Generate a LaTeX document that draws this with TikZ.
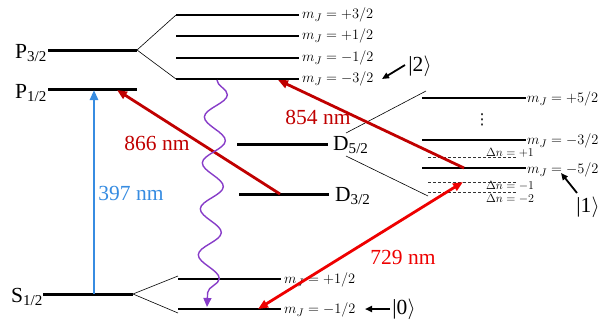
\documentclass[tikz,border=0pt]{standalone}
\usepackage{fontspec}
\setmainfont{Liberation Serif}
\newfontfamily\dejavu{DejaVu Sans}
\usetikzlibrary{arrows.meta,decorations.pathmorphing}
\definecolor{dred}{RGB}{192,0,0}
\definecolor{bred}{RGB}{238,0,0}
\definecolor{lblue}{RGB}{55,140,225}
\definecolor{purp}{RGB}{135,60,200}
\begin{document}
\begin{tikzpicture}[x=1pt,y=-1pt,
  lev/.style={line width=3pt},
  sub/.style={line width=2pt},
  fan/.style={line width=0.6pt},
  dsh/.style={line width=0.8pt,dash pattern=on 3pt off 2pt,black!80},
  ar/.style={-{Triangle[length=10pt,width=8pt]},line width=2.8pt},
  sar/.style={-{Triangle[length=7pt,width=6pt]},line width=1.8pt},
  big/.style={font=\fontsize{21.5}{24}\selectfont,inner sep=0pt},
  wl/.style={font=\fontsize{21.5}{24}\selectfont,inner sep=0pt},
  mj/.style={font=\fontsize{15.3}{18}\selectfont,inner sep=0pt,anchor=west},
  dn/.style={font=\fontsize{12}{12}\selectfont,inner sep=0pt,anchor=west}]
\useasboundingbox (0,0) rectangle (607,325);
% main levels
\coordinate (P3a) at (48,50); \coordinate (P3b) at (137,50);
\coordinate (P1a) at (48,89); \coordinate (P1b) at (137,89);
\coordinate (S1a) at (43,294); \coordinate (S1b) at (133,294);
\coordinate (D5a) at (237,144); \coordinate (D5b) at (328,144);
\coordinate (D3a) at (239,194); \coordinate (D3b) at (329,194);
\draw[lev] (P3a) -- (P3b);
\draw[lev] (P1a) -- (P1b);
\draw[lev] (S1a) -- (S1b);
\draw[lev] (D5a) -- (D5b);
\draw[lev] (D3a) -- (D3b);
\node[big,anchor=base east] (lP3) at (47,58) {P\textsubscript{3/2}};
\node[big,anchor=base east] (lP1) at (47,98) {P\textsubscript{1/2}};
\node[big,anchor=base east] (lS1) at (43,302) {S\textsubscript{1/2}};
\node[big,anchor=base west] (lD5) at (333,150) {D\textsubscript{5/2}};
\node[big,anchor=base west] (lD3) at (335,201) {D\textsubscript{3/2}};
% P3/2 sublevels
\foreach \y/\n/\t in {15/a/{+3/2},36/b/{+1/2},58/c/{-1/2},79/d/{-3/2}}{
  \coordinate (Pm\n1) at (176,\y); \coordinate (Pm\n2) at (299,\y);
  \draw[sub] (Pm\n1) -- (Pm\n2);
  \node[mj] (PmL\n) at (302,\y) {$m_J = \t$};
}
\draw[fan] (Pma1) -- (P3b) -- (Pmd1);
% S1/2 sublevels
\coordinate (Sa1) at (178,279); \coordinate (Sa2) at (281,279);
\coordinate (Sb1) at (178,309); \coordinate (Sb2) at (281,309);
\draw[sub] (Sa1) -- (Sa2);
\draw[sub] (Sb1) -- (Sb2);
\node[mj] (SL1) at (284,280) {$m_J = +1/2$};
\node[mj] (SL2) at (284,310) {$m_J = -1/2$};
\coordinate (Sf1) at (178,276); \coordinate (Sf2) at (178,313);
\draw[fan] (Sf1) -- (S1b) -- (Sf2);
% D5/2 sublevels
\coordinate (Da1) at (422,98); \coordinate (Da2) at (526,98);
\coordinate (Db1) at (422,140); \coordinate (Db2) at (526,140);
\coordinate (Dc1) at (422,168); \coordinate (Dc2) at (526,168);
\draw[sub] (Da1) -- (Da2);
\draw[sub] (Db1) -- (Db2);
\draw[sub] (Dc1) -- (Dc2);
\node[mj] (DL1) at (527,99) {$m_J = +5/2$};
\node[mj] (DL2) at (527,141) {$m_J = -3/2$};
\node[mj] (DL3) at (527,170) {$m_J = -5/2$};
\node[font=\dejavu\fontsize{15}{18}\selectfont,inner sep=0pt] (dots) at (482,120) {⋮};
\coordinate (dA1) at (428,157); \coordinate (dA2) at (517,157);
\coordinate (dB1) at (428,182); \coordinate (dB2) at (517,182);
\coordinate (dC1) at (428,192); \coordinate (dC2) at (517,192);
\draw[dsh] (dA1) -- (dA2);
\draw[dsh] (dB1) -- (dB2);
\draw[dsh] (dC1) -- (dC2);
\node[dn] (n1) at (486,153) {$\Delta n = +1$};
\node[dn] (n2) at (486,186) {$\Delta n = -1$};
\node[dn] (n3) at (486,199) {$\Delta n = -2$};
\coordinate (F1) at (346,133); \coordinate (F2) at (426,91);
\coordinate (F3) at (346,156); \coordinate (F4) at (428,196);
\draw[fan] (F1) -- (F2);
\draw[fan] (F3) -- (F4);
% transitions
\coordinate (b0) at (94,294); \coordinate (b1) at (94,90);
\draw[ar,lblue] (b0) -- (b1);
\node[wl,lblue] (l397) at (131,193) {397 nm};
\coordinate (r0) at (280,194); \coordinate (r1) at (117,90);
\draw[ar,dred] (r0) -- (r1);
\node[wl,dred] (l866) at (157,143) {866 nm};
\coordinate (s0) at (464,168); \coordinate (s1) at (278,80);
\draw[ar,dred] (s0) -- (s1);
\node[wl,dred] (l854) at (318,117) {854 nm};
\coordinate (t0) at (258,309); \coordinate (t1) at (463,182);
\draw[ar,bred,{Triangle[length=10pt,width=8pt]}-{Triangle[length=10pt,width=8pt]}] (t0) -- (t1);
\node[wl,bred] (l729) at (403,257) {729 nm};
\coordinate (w0) at (217,80); \coordinate (w1) at (207,307);
\draw[purp,line width=1.4pt,-{Triangle[length=9pt,width=8pt]},
  decorate,decoration={snake,amplitude=11pt,segment length=46pt,post length=9pt}] (w0) -- (w1);
% kets
\node[big] (k2) at (420,66) {|2$\rangle$};
\coordinate (k2t) at (405,65); \coordinate (k2h) at (382,79);
\draw[sar] (k2t) -- (k2h);
\node[big] (k1) at (588,207) {|1$\rangle$};
\coordinate (k1t) at (577,193); \coordinate (k1h) at (561,173);
\draw[sar] (k1t) -- (k1h);
\node[big] (k0) at (404,309) {|0$\rangle$};
\coordinate (k0t) at (390,309); \coordinate (k0h) at (365,309);
\draw[sar] (k0t) -- (k0h);
\end{tikzpicture}
\end{document}
